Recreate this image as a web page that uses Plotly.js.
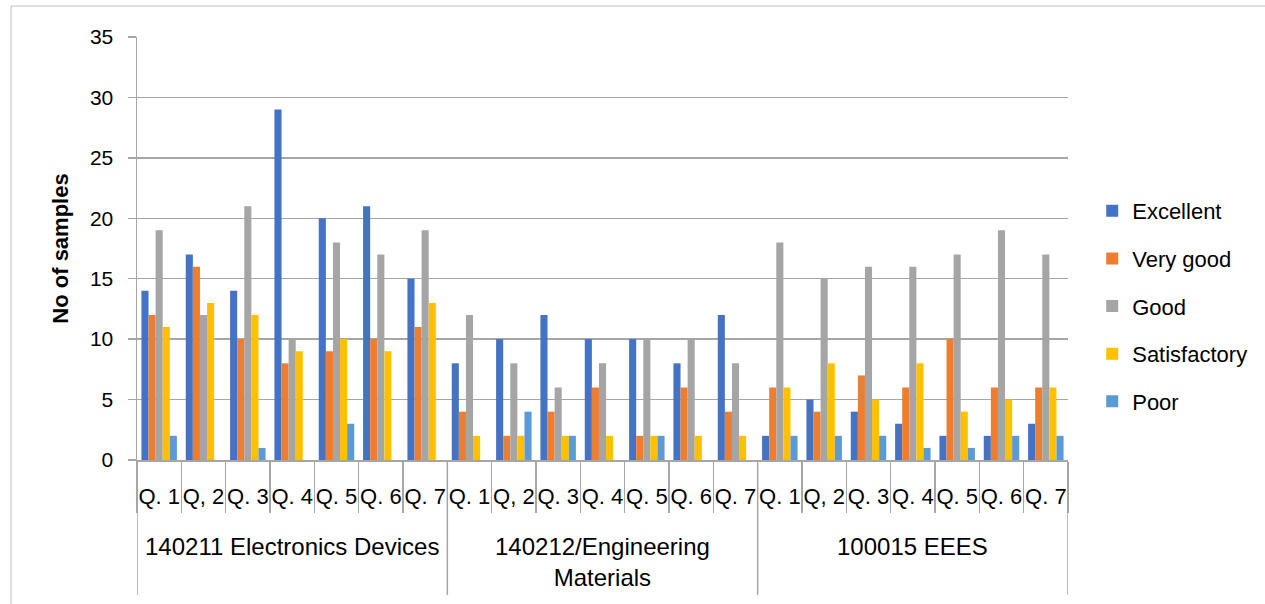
<!DOCTYPE html>
<html>
<head>
<meta charset="utf-8">
<script src="https://cdn.plot.ly/plotly-3.0.1.min.js"></script>
<style>html,body{margin:0;padding:0;background:#fff;}#chart{width:1265px;height:604px;}</style>
</head>
<body>
<div id="chart"></div>
<script>
const groups = ["140211 Electronics Devices", "140212/Engineering<br>Materials", "100015 EEES"];
const questions = ["Q. 1", "Q, 2", "Q. 3", "Q. 4", "Q. 5", "Q. 6", "Q. 7"];
const seriesNames = ["Excellent", "Very good", "Good", "Satisfactory", "Poor"];
const seriesColors = ["#4472C4", "#ED7D31", "#A5A5A5", "#FFC000", "#5B9BD5"];

const excellent    = [14,17,14,29,20,21,15,  8,10,12,10,10, 8,12,  2, 5, 4, 3, 2, 2, 3];
const veryGood     = [12,16,10, 8, 9,10,11,  4, 2, 4, 6, 2, 6, 4,  6, 4, 7, 6,10, 6, 6];
const good         = [19,12,21,10,18,17,19, 12, 8, 6, 8,10,10, 8, 18,15,16,16,17,19,17];
const satisfactory = [11,13,12, 9,10, 9,13,  2, 2, 2, 2, 2, 2, 2,  6, 8, 5, 8, 4, 5, 6];
const poor         = [ 2, 0, 1, 0, 3, 0, 0,  0, 4, 2, 0, 2, 0, 0,  2, 2, 2, 1, 1, 2, 2];

const seriesValues = [excellent, veryGood, good, satisfactory, poor];

// category slots: one per (group, question)
const nQ = questions.length;
const slots = [], slotLabels = [];
groups.forEach((g, gi) => questions.forEach((q, qi) => { slots.push(gi * nQ + qi); slotLabels.push(q); }));
const boundaries = [];
for (let i = 0; i <= slots.length; i++) boundaries.push(i - 0.5);
const groupBounds = groups.map((g, gi) => gi * nQ - 0.5).concat([groups.length * nQ - 0.5]);
const groupCenters = groups.map((g, gi) => gi * nQ + (nQ - 1) / 2);

const font = "Liberation Sans, Arial, sans-serif";
const axisGrey = "#a6a6a6";

const traces = seriesNames.map((name, i) => ({
  type: "bar",
  name: name,
  x: slots,
  y: seriesValues[i],
  marker: {color: seriesColors[i]},
  legendgroup: "g" + i,
  hoverinfo: "y+name"
}));

const annotations = groups.map((g, gi) => ({
  xref: "x", yref: "paper",
  x: groupCenters[gi], y: -0.167,
  xanchor: "center", yanchor: "top",
  text: g, showarrow: false,
  font: {family: font, size: 24, color: "#000"}
}));

const shapes = [
  {type: "rect", xref: "paper", yref: "paper", x0: -0.1353, x1: 1.4, y0: -0.5, y1: 1.0733,
   line: {color: "#bfbfbf", width: 1}, fillcolor: "rgba(0,0,0,0)", layer: "below"}
].concat(groupBounds.map(b => ({
  type: "line", xref: "x", yref: "paper", x0: b, x1: b, y0: 0, y1: -0.319,
  line: {color: axisGrey, width: 1.5}
})));

const layout = {
  width: 1265, height: 604,
  margin: {l: 137, r: 197, t: 37, b: 144},
  paper_bgcolor: "#ffffff",
  plot_bgcolor: "#ffffff",
  font: {family: font, color: "#000000", size: 20},
  barmode: "group",
  bargap: 0.2,
  bargroupgap: 0,
  showlegend: true,
  legend: {
    x: 1.026, xanchor: "left", y: 0.364, yanchor: "middle",
    font: {family: font, size: 22, color: "#000"},
    tracegroupgap: 16,
    itemwidth: 30,
    bgcolor: "rgba(0,0,0,0)"
  },
  xaxis: {
    type: "linear",
    range: [-0.5, slots.length - 0.5],
    tickmode: "array", tickvals: slots, ticktext: slotLabels,
    tickangle: 0,
    tickfont: {family: font, size: 22, color: "#000"},
    ticks: "", ticklabelstandoff: 16,
    minor: {tickmode: "array", tickvals: boundaries, ticks: "outside", ticklen: 51, tickcolor: axisGrey, tickwidth: 1.5, showgrid: false},
    showline: true, linecolor: axisGrey, linewidth: 1.5,
    showgrid: false, zeroline: false
  },
  yaxis: {
    range: [0, 35], dtick: 5,
    tickfont: {family: font, size: 21, color: "#000"},
    showgrid: true, gridcolor: axisGrey, gridwidth: 1.5,
    showline: true, linecolor: axisGrey, linewidth: 1.5,
    ticks: "outside", ticklen: 8, tickcolor: axisGrey, tickwidth: 1.5,
    ticklabelstandoff: 10,
    zeroline: false,
    title: {text: "<b>No of samples</b>", font: {family: font, size: 22, color: "#000"}, standoff: 15}
  },
  annotations: annotations,
  shapes: shapes
};

Plotly.newPlot("chart", traces, layout, {displayModeBar: false, staticPlot: true});
</script>
</body>
</html>
